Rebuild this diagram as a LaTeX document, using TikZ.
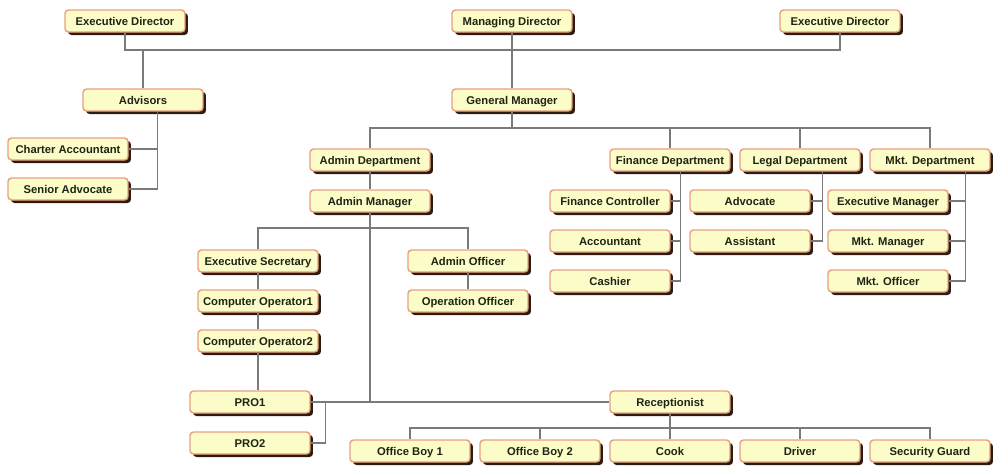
\documentclass[tikz,border=0pt]{standalone}
\usepackage{fontspec}
\setmainfont{Liberation Sans}
\usetikzlibrary{shadows}
\definecolor{boxfill}{HTML}{FBFCC8}
\definecolor{boxdraw}{HTML}{E9A07E}
\definecolor{boxshadow}{HTML}{2E1C12}
\definecolor{linegray}{HTML}{7A7A7A}
\definecolor{boxtext}{HTML}{1C2612}

\begin{document}
\begin{tikzpicture}[x=0.02cm, y=-0.02cm,
    every node/.style={font=\fontsize{6.4}{8}\selectfont\bfseries, text=boxtext},
    box/.style={draw=boxdraw, fill=boxfill, line width=0.8pt, rounded corners=2pt,
        minimum width=2.4cm, minimum height=0.44cm, inner sep=0pt,
        text height=4.6pt, text depth=0pt,
        drop shadow={shadow xshift=0.06cm, shadow yshift=-0.06cm, fill=boxshadow, opacity=1}},
    conn/.style={draw=linegray, line width=0.9pt}]
    \useasboundingbox (0,0) rectangle (994,471);

    % Direzione
    \node[box] (edL) at (125,21) {Executive Director};
    \node[box] (md) at (512,21) {Managing Director};
    \node[box] (edR) at (840,21) {Executive Director};
    \node[box] (adv) at (143,100) {Advisors};
    \node[box] (gm) at (512,100) {General Manager};
    \node[box] (charter) at (68,149) {Charter Accountant};
    \node[box] (senior) at (68,189) {Senior Advocate};

    % Reparti
    \node[box] (admDept) at (370,160) {Admin Department};
    \node[box] (finDept) at (670,160) {Finance Department};
    \node[box] (legDept) at (800,160) {Legal Department};
    \node[box] (mktDept) at (930,160) {Mkt. Department};

    % Finanza, legale, marketing
    \node[box] (finCtrl) at (610,201) {Finance Controller};
    \node[box] (accnt) at (610,241) {Accountant};
    \node[box] (cashier) at (610,281) {Cashier};
    \node[box] (advocate) at (750,201) {Advocate};
    \node[box] (assist) at (750,241) {Assistant};
    \node[box] (execMgr) at (888,201) {Executive Manager};
    \node[box] (mktMgr) at (888,241) {Mkt. Manager};
    \node[box] (mktOff) at (888,281) {Mkt. Officer};

    % Amministrazione
    \node[box] (admMgr) at (370,201) {Admin Manager};
    \node[box] (execSec) at (258,261) {Executive Secretary};
    \node[box] (co1) at (258,301) {Computer Operator1};
    \node[box] (co2) at (258,341) {Computer Operator2};
    \node[box] (admOff) at (468,261) {Admin Officer};
    \node[box] (opOff) at (468,301) {Operation Officer};
    \node[box] (pro1) at (250,402) {PRO1};
    \node[box] (pro2) at (250,443) {PRO2};
    \node[box] (recep) at (670,402) {Receptionist};
    \node[box] (ob1) at (410,451) {Office Boy 1};
    \node[box] (ob2) at (540,451) {Office Boy 2};
    \node[box] (cook) at (670,451) {Cook};
    \node[box] (driver) at (800,451) {Driver};
    \node[box] (guard) at (930,451) {Security Guard};

    % Linee orizzontali
    \coordinate (bus1) at (0,50);
    \coordinate (bus2) at (0,128);
    \coordinate (bus3) at (0,228);
    \coordinate (bus4) at (0,428);

    % Collegamenti in alto
    \draw[conn] (edL.south) -- (edL |- bus1) -- (edR |- bus1) -- (edR.south);
    \draw[conn] (md.south) -- (gm.north);
    \draw[conn] (adv.north) -- (adv |- bus1);
    \draw[conn] (senior.east) -- ++(29,0) coordinate (a1) -- (a1 |- adv.south);
    \draw[conn] (charter.east) -- (charter.east -| a1);

    % Collegamenti reparti
    \draw[conn] (gm.south) -- (gm |- bus2);
    \draw[conn] (admDept.north) -- (admDept |- bus2) -- (mktDept |- bus2) -- (mktDept.north);
    \draw[conn] (finDept.north) -- (finDept |- bus2);
    \draw[conn] (legDept.north) -- (legDept |- bus2);
    \draw[conn] (cashier.east) -- ++(10,0) coordinate (f1) -- (f1 |- finDept.south);
    \draw[conn] (finCtrl.east) -- (finCtrl.east -| f1);
    \draw[conn] (accnt.east) -- (accnt.east -| f1);
    \draw[conn] (assist.east) -- ++(12,0) coordinate (l1) -- (l1 |- legDept.south);
    \draw[conn] (advocate.east) -- (advocate.east -| l1);
    \draw[conn] (mktOff.east) -- ++(17,0) coordinate (m1) -- (m1 |- mktDept.south);
    \draw[conn] (execMgr.east) -- (execMgr.east -| m1);
    \draw[conn] (mktMgr.east) -- (mktMgr.east -| m1);

    % Collegamenti amministrazione
    \draw[conn] (admDept.south) -- (admMgr.north);
    \draw[conn] (admMgr.south) -- (admMgr |- recep.west);
    \draw[conn] (pro1.east) -- (recep.west);
    \draw[conn] (pro2.east) -- ++(15,0) coordinate (p1) -- (p1 |- pro1.east);
    \draw[conn] (execSec.north) -- (execSec |- bus3) -- (admOff |- bus3) -- (admOff.north);
    \draw[conn] (execSec.south) -- (co1.north);
    \draw[conn] (co1.south) -- (co2.north);
    \draw[conn] (co2.south) -- (co2.south |- pro1.north);
    \draw[conn] (admOff.south) -- (opOff.north);
    \draw[conn] (recep.south) -- (recep |- bus4);
    \draw[conn] (ob1.north) -- (ob1 |- bus4) -- (guard |- bus4) -- (guard.north);
    \draw[conn] (ob2.north) -- (ob2 |- bus4);
    \draw[conn] (cook.north) -- (cook |- bus4);
    \draw[conn] (driver.north) -- (driver |- bus4);
\end{tikzpicture}
\end{document}
